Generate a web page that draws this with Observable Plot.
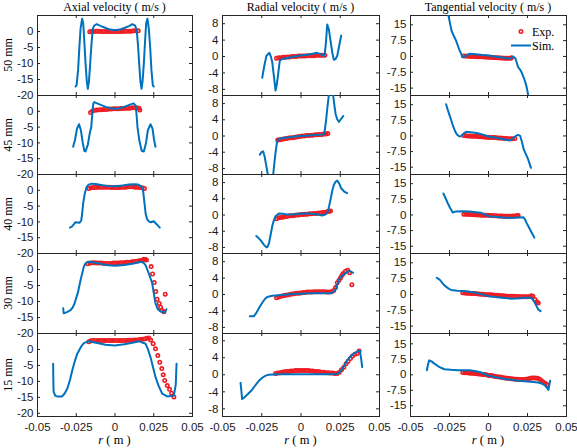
<!DOCTYPE html>
<html><head><meta charset="utf-8">
<script src="https://cdn.jsdelivr.net/npm/d3@7"></script>
<script src="https://cdn.jsdelivr.net/npm/@observablehq/plot@0.6"></script>
<style>
body{margin:0;background:#fff;}
#chart{position:relative;width:577px;height:448px;overflow:hidden;background:#fff;}
.ttl{position:absolute;top:1px;line-height:13px;font-family:"Liberation Serif","DejaVu Serif",serif;font-size:12px;color:#000;white-space:nowrap;transform:translateX(-50%);}
.rowlab{position:absolute;font-family:"Liberation Serif","DejaVu Serif",serif;font-size:12px;color:#000;white-space:nowrap;transform:translate(-50%,-50%) rotate(-90deg);}
.xlab{position:absolute;top:433px;line-height:14px;font-family:"Liberation Serif","DejaVu Serif",serif;font-size:12.5px;color:#000;white-space:nowrap;transform:translateX(-50%);}
svg.plotp{position:absolute;overflow:visible;}
</style></head><body><div id="chart"></div>
<script>
// ---- labels ----
const rowLabels = ["50 mm","45 mm","40 mm","30 mm","15 mm"];
const colTitles = ["Axial velocity ( m/s )","Radial velocity ( m/s )","Tangential velocity ( m/s )"];
const xTicks = [-0.05,-0.025,0,0.025,0.05];
const yTicksAxial = [-20,-15,-10,-5,0];
const yTicksRadial = [-8,-4,0,4,8];
const yTicksTang = [-15,-7.5,0,7.5,15];
const legendLabels = ["Exp.","Sim."];

// ---- Axial velocity: simulation [r, v] ----
const simAx50 = [[-0.0255,-17.2],[-0.0248,-16.8],[-0.0238,-12],[-0.023,-5],[-0.0222,1],[-0.0212,4.0],[-0.0205,2.5],[-0.0198,-3],[-0.019,-10],[-0.0182,-15.5],[-0.0175,-17.9],[-0.0168,-15.5],[-0.016,-10],[-0.0152,-4],[-0.0143,0.8],[-0.0135,1.8],[-0.0118,2.3],[-0.009,1.7],[-0.006,1.1],[-0.003,0.6],[0,0.4],[0.003,0.6],[0.006,1.1],[0.009,1.7],[0.0112,2.3],[0.013,1.8],[0.014,0.5],[0.0148,-4],[0.0156,-10],[0.0164,-15.5],[0.0171,-17.9],[0.0178,-15.5],[0.0186,-10],[0.0194,-3],[0.0201,2.5],[0.0209,4.0],[0.0218,1],[0.0227,-5],[0.0235,-12],[0.0244,-16.8],[0.0251,-17.2]];
const simAx45 = [[-0.027,-11.2],[-0.0258,-9],[-0.0245,-5.5],[-0.0232,-4.1],[-0.022,-6],[-0.0208,-10],[-0.0198,-12.5],[-0.019,-12.7],[-0.0175,-10.5],[-0.0163,-7],[-0.0153,-4.9],[-0.0147,-1],[-0.014,2.4],[-0.0134,2.9],[-0.01,2.2],[-0.006,1.4],[-0.003,1.0],[0,0.8],[0.003,1.0],[0.006,1.4],[0.01,2.2],[0.0121,2.5],[0.0133,1.8],[0.0139,-1],[0.0145,-5],[0.0158,-9.5],[0.0172,-12.5],[0.0186,-12.7],[0.02,-10],[0.0212,-6],[0.0229,-4.1],[0.0242,-5.5],[0.0252,-9],[0.0261,-11.2]];
const simAx40 = [[-0.0291,-11.8],[-0.0278,-11.5],[-0.0266,-10.8],[-0.0255,-10.1],[-0.0242,-10.2],[-0.023,-10.3],[-0.0218,-9.6],[-0.0212,-7.5],[-0.0205,-4],[-0.0195,-1],[-0.0184,1.0],[-0.017,1.8],[-0.015,2.1],[-0.0126,2.0],[-0.009,1.7],[-0.005,1.4],[0,1.3],[0.005,1.5],[0.009,1.8],[0.0121,1.9],[0.015,1.8],[0.0172,1.2],[0.0182,-0.5],[0.019,-4],[0.0198,-7.5],[0.0208,-9.2],[0.022,-9.9],[0.0233,-10.1],[0.025,-9.8],[0.027,-10.8],[0.0289,-11.8]];
const simAx30 = [[-0.0334,-12.1],[-0.0331,-13.7],[-0.031,-13.3],[-0.0287,-12.7],[-0.0272,-11.8],[-0.0261,-10.6],[-0.0248,-8.5],[-0.024,-7.4],[-0.0222,-3.3],[-0.0201,0.9],[-0.0188,2.0],[-0.0175,2.4],[-0.0145,2.3],[-0.0115,2.0],[-0.006,1.4],[0,1.2],[0.006,1.4],[0.0121,1.9],[0.0165,2.4],[0.0185,2.1],[0.0197,1.4],[0.0208,0],[0.0218,-1.2],[0.024,-4.3],[0.025,-7.4],[0.0261,-10.6],[0.0276,-12.4],[0.029,-13],[0.0304,-13.2],[0.0321,-13.5],[0.0332,-12.4]];
const simAx15 = [[-0.0399,-4.5],[-0.0398,-9],[-0.0396,-13.3],[-0.0385,-14.5],[-0.0373,-14.7],[-0.0341,-14.7],[-0.0325,-13.8],[-0.0308,-12.3],[-0.029,-9.5],[-0.0276,-6.6],[-0.026,-3.8],[-0.0244,-1.4],[-0.022,0.8],[-0.0201,2.0],[-0.0169,2.6],[-0.0115,2.0],[-0.006,1.5],[0,1.25],[0.006,1.6],[0.0121,2.2],[0.0153,2.6],[0.0197,1.8],[0.0213,0],[0.0229,-2.4],[0.0245,-5.5],[0.0261,-8.6],[0.0282,-11.5],[0.0304,-13.8],[0.0337,-14.7],[0.038,-14.4],[0.0392,-11],[0.0397,-4.5]];

// ---- Axial velocity: experiment [r, v] ----
const expAx50 = [[-0.0163,-0.1],[-0.015,0],[-0.0135,0],[-0.012,0.1],[-0.0105,0.1],[-0.009,0],[-0.0075,0],[-0.006,0],[-0.0045,0],[-0.003,0],[-0.0015,0],[0,0],[0.0015,0],[0.003,0],[0.0045,0],[0.006,0.1],[0.0075,0.1],[0.009,0.1],[0.0105,0.1],[0.012,0.2],[0.0135,0.2],[0.015,0.2]];
const expAx45 = [[-0.0158,-0.4],[-0.0145,0.1],[-0.013,0.3],[-0.0115,0.4],[-0.01,0.5],[-0.0085,0.5],[-0.007,0.6],[-0.0055,0.6],[-0.004,0.7],[-0.0025,0.7],[-0.001,0.8],[0.0005,0.8],[0.002,0.8],[0.0035,0.9],[0.005,0.9],[0.0065,1.0],[0.008,1.0],[0.0095,1.0],[0.011,1.1],[0.0125,1.1],[0.014,1.1],[0.0155,1.0],[0.016,0.4]];
const expAx40 = [[-0.0169,0.6],[-0.0155,0.8],[-0.014,0.9],[-0.0125,0.9],[-0.011,1.0],[-0.0095,1.0],[-0.008,1.0],[-0.0065,1.0],[-0.005,1.0],[-0.0035,1.0],[-0.002,0.9],[-0.0005,0.9],[0.001,0.9],[0.0025,0.9],[0.004,1.0],[0.0055,1.0],[0.007,1.0],[0.0085,1.1],[0.01,1.1],[0.0115,1.1],[0.013,1.0],[0.0145,1.0],[0.016,0.9],[0.0175,0.8],[0.019,0.6]];
const expAx30 = [[-0.0175,1.8],[-0.016,2.0],[-0.0145,2.1],[-0.013,2.1],[-0.0115,2.0],[-0.01,2.0],[-0.0085,2.0],[-0.007,1.9],[-0.0055,1.9],[-0.004,1.9],[-0.0025,1.9],[-0.001,2.0],[0.0005,2.0],[0.002,2.0],[0.0035,2.1],[0.005,2.1],[0.0065,2.2],[0.008,2.3],[0.0095,2.3],[0.011,2.4],[0.0125,2.5],[0.014,2.6],[0.0155,2.7],[0.017,2.8],[0.018,3.0],[0.0186,3.2],[0.0195,3.1],[0.0203,3.0],[0.0233,0.9],[0.0242,-1.4],[0.0253,-4.1],[0.0263,-6.9],[0.0272,-9.3],[0.0285,-10.6],[0.0294,-11.8],[0.0302,-12.7],[0.0315,-13.2],[0.0324,-7.7]];
const expAx15 = [[-0.0169,2.4],[-0.0155,2.7],[-0.014,2.8],[-0.0125,2.8],[-0.011,2.8],[-0.0095,2.8],[-0.008,2.8],[-0.0065,2.8],[-0.005,2.8],[-0.0035,2.8],[-0.002,2.8],[-0.0005,2.8],[0.001,2.8],[0.0025,2.8],[0.004,2.8],[0.0055,2.8],[0.007,2.8],[0.0085,2.9],[0.01,2.9],[0.0115,2.9],[0.013,3.0],[0.0145,3.0],[0.016,3.1],[0.0175,3.2],[0.019,3.3],[0.0205,3.5],[0.0218,3.6],[0.023,3.0],[0.0246,1.8],[0.0261,0.2],[0.0276,-1.9],[0.0289,-4.0],[0.0302,-6.0],[0.0311,-7.9],[0.0321,-9.7],[0.0337,-11.3],[0.0352,-12.5],[0.0365,-13.7],[0.038,-14.9]];

// ---- Radial velocity: simulation ----
const simRad50 = [[-0.0247,-5.2],[-0.0235,-2.5],[-0.022,0.2],[-0.0201,0.9],[-0.0192,0],[-0.0183,-1.4],[-0.0172,-5],[-0.0162,-8.3],[-0.0155,-7],[-0.0148,-5.0],[-0.0135,-1],[-0.012,-0.6],[-0.008,-0.3],[-0.004,0],[0,0.25],[0.005,0.5],[0.0103,0.9],[0.0135,0.4],[0.015,0.2],[0.0158,3],[0.0167,7.8],[0.0178,6.5],[0.0188,3.9],[0.02,0.8],[0.0209,-0.8],[0.022,-0.6],[0.0231,0.2],[0.0245,3],[0.0256,5.1]];
const simRad45 = [[-0.0262,-4.6],[-0.0252,-4.0],[-0.0241,-3.8],[-0.0232,-5],[-0.0225,-6.5],[-0.021,-9.8],[-0.0195,-13],[-0.0178,-9.8],[-0.0165,-5],[-0.0155,-2],[-0.0148,-1.0],[-0.0135,-0.6],[-0.01,-0.4],[-0.005,-0.2],[0,0],[0.005,0.1],[0.01,0.3],[0.0145,0.4],[0.0152,1.5],[0.016,4],[0.0168,7],[0.0177,10],[0.019,12.5],[0.0205,10],[0.0213,7.5],[0.022,5.5],[0.023,4.2],[0.0241,3.5],[0.0255,4.2],[0.0269,4.9]];
const simRad40 = [[-0.0285,-5.2],[-0.027,-5.7],[-0.0254,-6.4],[-0.0237,-7.3],[-0.022,-8.0],[-0.0212,-7.8],[-0.0203,-6.8],[-0.0193,-4.8],[-0.0183,-2.7],[-0.0172,-1.2],[-0.0162,-0.3],[-0.0141,0.4],[-0.0115,0.3],[-0.0088,0.1],[-0.004,0.2],[0.0003,0.4],[0.005,0.4],[0.01,0.2],[0.0135,-0.1],[0.0155,0.1],[0.0167,0.5],[0.0178,2],[0.0188,3.8],[0.0198,5.8],[0.0209,7.4],[0.022,8.2],[0.0231,8.5],[0.0243,7.8],[0.0256,6.6],[0.0275,5.8],[0.0294,5.4]];
const simRad30 = [[-0.0326,-5.3],[-0.0301,-5.3],[-0.029,-4.8],[-0.0279,-4.1],[-0.0263,-3.0],[-0.0247,-2.0],[-0.023,-1.1],[-0.0215,-0.6],[-0.0183,-0.3],[-0.012,-0.1],[-0.006,0.1],[0,0.2],[0.006,0.3],[0.012,0.3],[0.0188,0.3],[0.0205,0.6],[0.022,1.2],[0.023,2.3],[0.0241,3.6],[0.0256,4.4],[0.0273,4.9],[0.029,5.4],[0.0304,5.7],[0.0318,5.6],[0.0332,5.3]];
const simRad15 = [[-0.0385,-1.9],[-0.0378,-4.5],[-0.0375,-5.7],[-0.036,-5.3],[-0.0343,-4.7],[-0.0327,-4.1],[-0.0311,-3.5],[-0.0295,-2.7],[-0.0279,-1.9],[-0.0263,-1.2],[-0.0247,-0.7],[-0.0225,-0.2],[-0.0205,0],[-0.015,0.1],[-0.01,0.1],[0,0.1],[0.01,0.1],[0.018,0.1],[0.0231,0.2],[0.0247,0.6],[0.0262,1.4],[0.0278,2.3],[0.0294,3.4],[0.0315,4.3],[0.0337,5.0],[0.0355,5.4],[0.0375,5.7],[0.0383,3.8],[0.039,1.8]];

// ---- Radial velocity: experiment ----
const expRad50 = [[-0.0156,-0.4],[-0.0142,-0.3],[-0.0128,-0.3],[-0.0114,-0.2],[-0.01,-0.2],[-0.0086,-0.1],[-0.0072,-0.1],[-0.0058,0],[-0.0044,0],[-0.003,0],[-0.0016,0.1],[-0.0002,0.1],[0.0012,0.1],[0.0026,0.1],[0.004,0.2],[0.0054,0.2],[0.0068,0.2],[0.0082,0.2],[0.0096,0.3],[0.011,0.3],[0.0124,0.3],[0.0138,0.3],[0.0152,0.3]];
const expRad45 = [[-0.0148,-1.0],[-0.0134,-0.9],[-0.012,-0.8],[-0.0106,-0.7],[-0.0092,-0.6],[-0.0078,-0.5],[-0.0064,-0.4],[-0.005,-0.4],[-0.0036,-0.3],[-0.0022,-0.2],[-0.0008,-0.1],[0.0006,0],[0.002,0],[0.0034,0.1],[0.0048,0.1],[0.0062,0.2],[0.0076,0.2],[0.009,0.3],[0.0104,0.3],[0.0118,0.4],[0.0132,0.4],[0.0146,0.5],[0.016,0.5],[0.0171,0.6]];
const expRad40 = [[-0.0156,-0.9],[-0.0142,-0.7],[-0.0128,-0.6],[-0.0114,-0.5],[-0.01,-0.4],[-0.0086,-0.3],[-0.0072,-0.2],[-0.0058,-0.2],[-0.0044,-0.1],[-0.003,0],[-0.0016,0],[-0.0002,0.1],[0.0012,0.1],[0.0026,0.2],[0.004,0.2],[0.0054,0.3],[0.0068,0.3],[0.0082,0.4],[0.0096,0.4],[0.011,0.5],[0.0124,0.5],[0.0138,0.6],[0.0152,0.7],[0.0166,0.8],[0.0178,0.9],[0.0188,1.0]];
const expRad30 = [[-0.0156,-0.8],[-0.0142,-0.6],[-0.0128,-0.4],[-0.0114,-0.3],[-0.01,-0.2],[-0.0086,-0.1],[-0.0072,0],[-0.0058,0.1],[-0.0044,0.2],[-0.003,0.3],[-0.0016,0.3],[-0.0002,0.4],[0.0012,0.5],[0.0026,0.5],[0.004,0.6],[0.0054,0.6],[0.0068,0.6],[0.0082,0.7],[0.0096,0.7],[0.011,0.7],[0.0124,0.7],[0.0138,0.7],[0.0152,0.7],[0.0166,0.6],[0.018,0.6],[0.0194,0.7],[0.0208,1.0],[0.022,1.7],[0.0231,2.9],[0.0242,3.5],[0.0252,4.1],[0.0261,4.7],[0.0269,5.1],[0.0283,5.7],[0.0298,5.9],[0.031,5.3],[0.0324,2.4]];
const expRad15 = [[-0.0162,0.3],[-0.0148,0.4],[-0.0134,0.5],[-0.012,0.6],[-0.0106,0.7],[-0.0092,0.8],[-0.0078,0.8],[-0.0064,0.9],[-0.005,0.9],[-0.0036,1.0],[-0.0022,1.0],[-0.0008,1.0],[0.0006,1.0],[0.002,1.0],[0.0034,1.0],[0.0048,1.0],[0.0062,0.9],[0.0076,0.9],[0.009,0.8],[0.0104,0.8],[0.0118,0.7],[0.0132,0.6],[0.0146,0.6],[0.016,0.5],[0.0174,0.5],[0.0188,0.4],[0.0202,0.4],[0.0216,0.3],[0.023,0.3],[0.0244,0.6],[0.0258,1.2],[0.0273,1.8],[0.0287,2.6],[0.03,3.2],[0.0315,3.8],[0.0328,4.4],[0.0343,4.8],[0.0358,5.0],[0.037,5.6]];

// ---- Tangential velocity: simulation ----
const simTan50 = [[-0.0262,22],[-0.0257,19.5],[-0.0244,14.7],[-0.0236,12],[-0.0229,10.8],[-0.0219,9.2],[-0.0208,7.5],[-0.0197,5.2],[-0.0186,3],[-0.0175,1.3],[-0.0168,-0.3],[-0.015,0],[-0.0121,1.3],[-0.008,1.0],[-0.004,0.7],[0.0002,0.5],[0.004,0],[0.008,-0.4],[0.0115,-0.8],[0.0137,-1.1],[0.0158,0],[0.0173,-1],[0.019,-5.1],[0.0205,-6.5],[0.0212,-7.5],[0.022,-9],[0.0229,-10.6],[0.0237,-12.5],[0.0244,-14.3],[0.0255,-18.5],[0.026,-21]];
const simTan45 = [[-0.0272,15.2],[-0.0261,12.5],[-0.025,10],[-0.0239,7.5],[-0.0229,5.2],[-0.0218,3],[-0.0208,1.3],[-0.0197,0.3],[-0.0186,-0.3],[-0.0175,0],[-0.0165,0.5],[-0.0155,1.5],[-0.0143,2.0],[-0.01,1.6],[-0.0068,1.3],[-0.003,0.5],[0,-0.3],[0.004,-0.8],[0.008,-1.3],[0.0137,-2.2],[0.0158,-1.1],[0.0175,0],[0.019,0.5],[0.0203,0],[0.0215,-3],[0.0227,-6.7],[0.0241,-9],[0.0255,-11.4],[0.0272,-15.3]];
const simTan40 = [[-0.0289,10.3],[-0.0275,8],[-0.0261,5.6],[-0.0245,3.2],[-0.0229,1.2],[-0.0208,1.7],[-0.0165,1.8],[-0.0121,1.7],[-0.008,1.3],[-0.0046,1.0],[0,-0.6],[0.005,-1.0],[0.0105,-1.4],[0.0169,-1.4],[0.0223,-1.1],[0.0235,-2.2],[0.0244,-3.8],[0.0258,-5.8],[0.0272,-7.8],[0.0285,-9.6],[0.0294,-10.9]];
const simTan30 = [[-0.0332,7.9],[-0.0315,7.1],[-0.03,5.8],[-0.0283,4.3],[-0.026,3.0],[-0.024,2.1],[-0.02,1.8],[-0.0154,1.6],[-0.01,1.0],[-0.0068,0.5],[0,-0.8],[0.007,-1.4],[0.0147,-2.0],[0.02,-1.8],[0.0234,-1.6],[0.0272,-1.6],[0.0285,-2.5],[0.0294,-3.6],[0.0307,-5.4],[0.0319,-7.1],[0.0334,-7.9]];
const simTan15 = [[-0.0395,2.2],[-0.0388,5],[-0.038,7.0],[-0.0365,6.5],[-0.0347,5.4],[-0.032,4.0],[-0.0283,2.7],[-0.024,2.4],[-0.0197,2.2],[-0.0121,2.2],[-0.008,1.7],[-0.0046,1.1],[0,-0.5],[0.005,-1.2],[0.0105,-2.0],[0.019,-2.9],[0.025,-3.3],[0.0319,-3.7],[0.0345,-4.3],[0.0363,-5.2],[0.0375,-6.4],[0.0384,-7.3],[0.039,-5],[0.0395,-2.9]];

// ---- Tangential velocity: experiment ----
const expTan50 = [[-0.0158,0.2],[-0.0145,0.2],[-0.0132,0.1],[-0.0119,0.1],[-0.0106,0],[-0.0093,0],[-0.008,-0.1],[-0.0067,-0.1],[-0.0054,-0.2],[-0.0041,-0.2],[-0.0028,-0.3],[-0.0015,-0.3],[-0.0002,-0.4],[0.0011,-0.4],[0.0024,-0.5],[0.0037,-0.5],[0.005,-0.6],[0.0063,-0.6],[0.0076,-0.7],[0.0089,-0.7],[0.0102,-0.8],[0.0115,-0.8],[0.0128,-0.9],[0.0141,-0.9],[0.0147,-0.6]];
const expTan45 = [[-0.0158,0.2],[-0.0145,0.1],[-0.0132,0],[-0.0119,0],[-0.0106,-0.1],[-0.0093,-0.2],[-0.008,-0.2],[-0.0067,-0.3],[-0.0054,-0.4],[-0.0041,-0.4],[-0.0028,-0.5],[-0.0015,-0.6],[-0.0002,-0.6],[0.0011,-0.7],[0.0024,-0.8],[0.0037,-0.8],[0.005,-0.9],[0.0063,-1.0],[0.0076,-1.0],[0.0089,-1.1],[0.0102,-1.2],[0.0115,-1.2],[0.0128,-1.3],[0.0141,-1.4],[0.0154,-1.4],[0.0169,-1.2]];
const expTan40 = [[-0.0158,0.3],[-0.0145,0.3],[-0.0132,0.3],[-0.0119,0.2],[-0.0106,0.2],[-0.0093,0.1],[-0.008,0.1],[-0.0067,0],[-0.0054,0],[-0.0041,-0.1],[-0.0028,-0.1],[-0.0015,-0.2],[-0.0002,-0.2],[0.0011,-0.3],[0.0024,-0.3],[0.0037,-0.4],[0.005,-0.4],[0.0063,-0.5],[0.0076,-0.5],[0.0089,-0.5],[0.0102,-0.6],[0.0115,-0.6],[0.0128,-0.6],[0.0141,-0.6],[0.0154,-0.5],[0.0167,-0.5],[0.018,-0.4],[0.019,-0.3]];
const expTan30 = [[-0.0165,0.8],[-0.0152,0.7],[-0.0139,0.6],[-0.0126,0.6],[-0.0113,0.5],[-0.01,0.4],[-0.0087,0.4],[-0.0074,0.3],[-0.0061,0.2],[-0.0048,0.1],[-0.0035,0.1],[-0.0022,0],[-0.0009,-0.1],[0.0004,-0.2],[0.0017,-0.2],[0.003,-0.3],[0.0043,-0.4],[0.0056,-0.4],[0.0069,-0.5],[0.0082,-0.6],[0.0095,-0.6],[0.0108,-0.7],[0.0121,-0.8],[0.0134,-0.8],[0.0147,-0.9],[0.016,-0.9],[0.0173,-1.0],[0.0186,-1.0],[0.0199,-1.1],[0.0212,-1.1],[0.0225,-1.1],[0.0238,-1.1],[0.0251,-1.1],[0.0266,-1.0],[0.0275,-0.6],[0.0285,-0.8],[0.0298,-2.4],[0.031,-3.5],[0.0319,-4.0]];
const expTan15 = [[-0.0165,1.1],[-0.0152,1.0],[-0.0139,1.0],[-0.0126,0.9],[-0.0113,0.8],[-0.01,0.7],[-0.0087,0.6],[-0.0074,0.5],[-0.0061,0.4],[-0.0048,0.3],[-0.0035,0.2],[-0.0022,0.1],[-0.0009,-0.1],[0.0004,-0.3],[0.0017,-0.4],[0.003,-0.6],[0.0043,-0.8],[0.0056,-0.9],[0.0069,-1.1],[0.0082,-1.2],[0.0095,-1.4],[0.0108,-1.5],[0.0121,-1.7],[0.0134,-1.8],[0.0147,-1.9],[0.016,-2.0],[0.0173,-2.1],[0.0186,-2.2],[0.0199,-2.3],[0.0212,-2.3],[0.0225,-2.3],[0.0238,-2.2],[0.0251,-2.0],[0.0264,-1.8],[0.0276,-1.6],[0.0289,-1.5],[0.0302,-1.5],[0.0315,-1.7],[0.0328,-2.2],[0.034,-2.9],[0.0352,-3.6],[0.0365,-4.2],[0.0377,-4.8]];

// ---- assemble ----
const simData = [
  [simAx50, simRad50, simTan50],
  [simAx45, simRad45, simTan45],
  [simAx40, simRad40, simTan40],
  [simAx30, simRad30, simTan30],
  [simAx15, simRad15, simTan15]
];
const expData = [
  [expAx50, expRad50, expTan50],
  [expAx45, expRad45, expTan45],
  [expAx40, expRad40, expTan40],
  [expAx30, expRad30, expTan30],
  [expAx15, expRad15, expTan15]
];
const yTicks = [yTicksAxial, yTicksRadial, yTicksTang];
const yDomains = [
  [[-20,5],[-20,5],[-20,5],[-20,5],[-21,5]],
  [[-9.5,10],[-9.5,10],[-9.5,10],[-9.5,10],[-9.8,9.7]],
  [[-18.5,19.4],[-18.5,19.4],[-18.5,19.4],[-18.5,19.4],[-20.2,20]]
];

const colLeft = [37, 222, 410], colWidth = [155, 157, 156];
const rowTop = [15, 95, 174, 253, 333], rowHeight = [80, 79, 79, 80, 83];
const FRAME = "#262626", BLUE = "#0072BD", RED = "#ee1d23";

const chart = document.getElementById("chart");

function panel(c, r) {
  const W = colWidth[c], H = rowHeight[r];
  const ML = 40, MR = 4, MT = 4, MB = (r === 4 ? 30 : 4);
  const svg = Plot.plot({
    width: W + ML + MR, height: H + MT + MB,
    marginLeft: ML, marginRight: MR, marginTop: MT, marginBottom: MB,
    style: {fontFamily: "'Liberation Sans', Arial, sans-serif", fontSize: "11.5px", color: "#1a1a1a", background: "transparent", overflow: "visible"},
    x: {domain: [-0.05, 0.05], ticks: xTicks, tickFormat: d => String(d), tickSize: 0, tickPadding: 6, label: null, axis: r === 4 ? "bottom" : null},
    y: {domain: yDomains[c][r], ticks: yTicks[c], tickFormat: d => String(d), tickSize: 0, tickPadding: 4, label: null},
    marks: [
      Plot.frame({stroke: FRAME, strokeWidth: 1}),
      Plot.tickX(xTicks, {x: d => d, insetBottom: H - 3, stroke: FRAME}),
      Plot.tickX(xTicks, {x: d => d, insetTop: H - 3, stroke: FRAME}),
      Plot.tickY(yTicks[c], {y: d => d, insetRight: W - 3, stroke: FRAME}),
      Plot.tickY(yTicks[c], {y: d => d, insetLeft: W - 3, stroke: FRAME}),
      Plot.dot(expData[r][c], {x: d => d[0], y: d => d[1], r: 1.7, stroke: RED, strokeWidth: 1.6, fill: "none", clip: true}),
      Plot.line(simData[r][c], {x: d => d[0], y: d => d[1], stroke: BLUE, strokeWidth: 2, clip: true})
    ]
  });
  svg.classList.add("plotp");
  svg.style.left = (colLeft[c] - ML) + "px";
  svg.style.top = (rowTop[r] - MT) + "px";
  chart.appendChild(svg);
}
for (let r = 0; r < 5; r++) for (let c = 0; c < 3; c++) panel(c, r);

// titles
colTitles.forEach((t, c) => {
  const d = document.createElement("div");
  d.className = "ttl"; d.textContent = t;
  d.style.left = (colLeft[c] + colWidth[c] / 2) + "px";
  chart.appendChild(d);
});
// row labels
rowLabels.forEach((t, r) => {
  const d = document.createElement("div");
  d.className = "rowlab"; d.textContent = t;
  d.style.left = "8px";
  d.style.top = (rowTop[r] + rowHeight[r] / 2) + "px";
  chart.appendChild(d);
});
// x axis titles
for (let c = 0; c < 3; c++) {
  const d = document.createElement("div");
  d.className = "xlab";
  d.innerHTML = "<i>r</i> ( m )";
  d.style.left = (colLeft[c] + colWidth[c] / 2) + "px";
  chart.appendChild(d);
}
// legend (top-right panel)
const ns = "http://www.w3.org/2000/svg";
const lg = document.createElementNS(ns, "svg");
lg.setAttribute("width", 64); lg.setAttribute("height", 30);
lg.style.position = "absolute"; lg.style.left = "506px"; lg.style.top = "24px";
lg.innerHTML =
  `<circle cx="15" cy="7.5" r="1.7" fill="none" stroke="${RED}" stroke-width="1.6"/>` +
  `<line x1="5" x2="25" y1="21.5" y2="21.5" stroke="${BLUE}" stroke-width="2"/>` +
  `<text x="26" y="11.5" font-family="'Liberation Serif', serif" font-size="12">${legendLabels[0]}</text>` +
  `<text x="26" y="25.5" font-family="'Liberation Serif', serif" font-size="12">${legendLabels[1]}</text>`;
chart.appendChild(lg);
</script></body></html>
